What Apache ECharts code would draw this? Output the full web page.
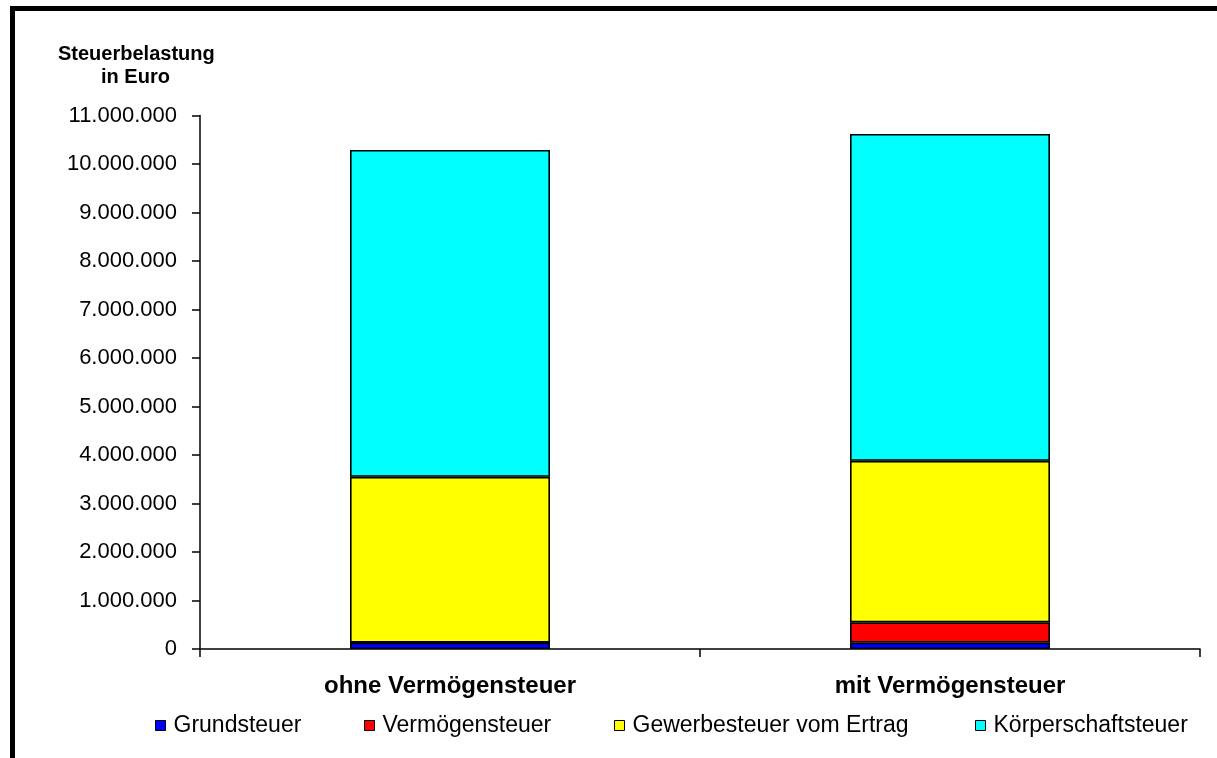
<!DOCTYPE html>
<html>
<head>
<meta charset="utf-8">
<script src="https://cdn.jsdelivr.net/npm/echarts@6/dist/echarts.min.js"></script>
<style>
html,body{margin:0;padding:0;background:#fff;}
#chart{width:1217px;height:758px;}
</style>
</head>
<body>
<div id="chart"></div>
<script>
const categories = ['ohne Vermögensteuer', 'mit Vermögensteuer'];
const seriesNames = ['Grundsteuer', 'Vermögensteuer', 'Gewerbesteuer vom Ertrag', 'Körperschaftsteuer'];
const grundsteuer = [130000, 130000];
const vermoegensteuer = [0, 420000];
const gewerbesteuer = [3420000, 3330000];
const koerperschaftsteuer = [6740000, 6740000];
const seriesColors = ['#0000FF', '#FF0000', '#FFFF00', '#00FFFF'];

const FONT = '"Liberation Sans", Arial, sans-serif';
function fmt(v) {
  return String(Math.round(v)).replace(/\B(?=(\d{3})+(?!\d))/g, '.');
}

const values = [grundsteuer, vermoegensteuer, gewerbesteuer, koerperschaftsteuer];
const series = seriesNames.map((name, i) => ({
  name: name,
  type: 'bar',
  stack: 'total',
  barWidth: 200,
  data: values[i],
  itemStyle: { color: seriesColors[i], borderColor: '#000', borderWidth: 1.6 },
  emphasis: { disabled: true }
}));

const legendLefts = [155, 364, 614, 975];
const legends = seriesNames.map((name, i) => ({
  left: legendLefts[i],
  top: 714,
  padding: 0,
  itemWidth: 10,
  itemHeight: 10,
  icon: 'rect',
  itemStyle: { borderColor: '#000', borderWidth: 1 },
  textStyle: { fontSize: 23, color: '#000', fontFamily: FONT, padding: [0, 0, 0, 3] },
  data: [name]
}));

const chart = echarts.init(document.getElementById('chart'), null, { renderer: 'canvas' });
chart.setOption({
  animation: false,
  backgroundColor: '#fff',
  textStyle: { fontFamily: FONT },
  graphic: [
    { type: 'rect', shape: { x: 10, y: 6, width: 5, height: 760 }, style: { fill: '#000' } },
    { type: 'rect', shape: { x: 10, y: 6, width: 1220, height: 5 }, style: { fill: '#000' } },
    { type: 'text', left: 58, top: 44, style: { text: 'Steuerbelastung', font: 'bold 20px ' + FONT, fill: '#000' } },
    { type: 'text', left: 101, top: 67, style: { text: 'in Euro', font: 'bold 20px ' + FONT, fill: '#000' } }
  ],
  grid: { left: 200, right: 17, top: 115.5, bottom: 109, containLabel: false },
  legend: legends,
  xAxis: {
    type: 'category',
    data: categories,
    axisLine: { lineStyle: { color: '#000', width: 1.5 } },
    axisTick: { show: true, length: 8, lineStyle: { color: '#000', width: 1.5 } },
    axisLabel: { fontSize: 24, fontWeight: 'bold', color: '#000', margin: 25, fontFamily: FONT }
  },
  yAxis: {
    type: 'value',
    min: 0,
    max: 11000000,
    interval: 1000000,
    splitLine: { show: false },
    axisLine: { show: true, lineStyle: { color: '#000', width: 1.5 } },
    axisTick: { show: true, length: 8, lineStyle: { color: '#000', width: 1.5 } },
    axisLabel: { fontSize: 22, color: '#000', margin: 23, formatter: fmt, fontFamily: FONT }
  },
  series: series
});
</script>
</body>
</html>
